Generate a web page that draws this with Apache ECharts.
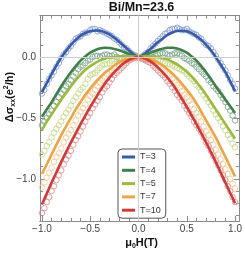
<!DOCTYPE html>
<html><head><meta charset="utf-8">
<script src="https://cdn.jsdelivr.net/npm/echarts@6/dist/echarts.min.js"></script>
<style>html,body{margin:0;padding:0;background:#fff}#c{width:245px;height:253px}</style>
</head><body><div id="c"></div>
<script>
// field values of fitted curves (T)
const fitX = [-1,-0.95,-0.9,-0.85,-0.8,-0.75,-0.7,-0.65,-0.6,-0.55,-0.5,-0.45,-0.4,-0.35,-0.3,-0.25,-0.2,-0.15,-0.1,-0.05,0,
  0.05,0.1,0.15,0.2,0.25,0.3,0.35,0.4,0.45,0.5,0.55,0.6,0.65,0.7,0.75,0.8,0.85,0.9,0.95,1];
// fitted curves
const fitT3 = [-0.29,-0.215,-0.14,-0.07,-0.005,0.05,0.10,0.14,0.175,0.197,0.21,0.217,0.215,0.203,0.185,0.157,0.125,0.09,0.055,0.022,0.0,
  0.02,0.05,0.085,0.12,0.15,0.18,0.20,0.213,0.215,0.21,0.195,0.17,0.14,0.10,0.055,0.0,-0.06,-0.125,-0.2,-0.28];
const fitT4 = [-0.49,-0.43,-0.37,-0.305,-0.24,-0.18,-0.125,-0.075,-0.03,0.005,0.035,0.055,0.07,0.075,0.073,0.065,0.055,0.04,0.025,0.01,0,
  0.012,0.027,0.043,0.057,0.068,0.075,0.076,0.07,0.055,0.035,0.005,-0.03,-0.075,-0.125,-0.18,-0.24,-0.295,-0.35,-0.405,-0.46];
const fitT5 = [-0.60,-0.53,-0.47,-0.41,-0.35,-0.295,-0.24,-0.19,-0.145,-0.105,-0.075,-0.05,-0.03,-0.015,-0.005,0.0,0.005,0.006,0.005,0.003,0,
  0.003,0.005,0.005,0.0,-0.01,-0.02,-0.04,-0.06,-0.09,-0.12,-0.16,-0.205,-0.255,-0.31,-0.37,-0.43,-0.49,-0.55,-0.61,-0.67];
const fitT7 = [-0.96,-0.88,-0.80,-0.72,-0.64,-0.57,-0.50,-0.43,-0.37,-0.31,-0.26,-0.21,-0.17,-0.13,-0.10,-0.07,-0.045,-0.025,-0.012,-0.003,0,
  -0.003,-0.012,-0.025,-0.045,-0.07,-0.10,-0.135,-0.175,-0.22,-0.27,-0.32,-0.38,-0.45,-0.52,-0.59,-0.66,-0.74,-0.82,-0.90,-0.98];
const fitT10 = [-1.21,-1.12,-1.03,-0.945,-0.86,-0.78,-0.70,-0.625,-0.55,-0.48,-0.41,-0.345,-0.28,-0.22,-0.17,-0.125,-0.085,-0.05,-0.025,-0.008,0,
  -0.008,-0.025,-0.05,-0.085,-0.125,-0.17,-0.22,-0.28,-0.345,-0.41,-0.48,-0.55,-0.625,-0.70,-0.78,-0.86,-0.945,-1.03,-1.115,-1.20];
// field values of measured points (T)
const dataX = [-1,-0.975,-0.95,-0.925,-0.9,-0.875,-0.85,-0.825,-0.8,-0.775,-0.75,-0.725,-0.7,-0.675,-0.65,-0.625,-0.6,-0.575,-0.55,-0.525,
  -0.5,-0.475,-0.45,-0.425,-0.4,-0.375,-0.35,-0.325,-0.3,-0.275,-0.25,-0.225,-0.2,-0.175,-0.15,-0.125,-0.1,-0.075,-0.05,-0.025,0,
  0.025,0.05,0.075,0.1,0.125,0.15,0.175,0.2,0.225,0.25,0.275,0.3,0.325,0.35,0.375,0.4,0.425,0.45,0.475,0.5,
  0.525,0.55,0.575,0.6,0.625,0.65,0.675,0.7,0.725,0.75,0.775,0.8,0.825,0.85,0.875,0.9,0.925,0.95,0.975,1];
// measured data
const dataT3 = [-0.30,-0.27,-0.22,-0.18,-0.15,-0.12,-0.08,-0.05,-0.01,0.02,0.04,0.07,0.09,0.12,0.15,0.16,0.17,0.19,0.20,0.20,
  0.22,0.23,0.23,0.21,0.22,0.21,0.20,0.19,0.18,0.17,0.15,0.14,0.12,0.10,0.08,0.07,0.05,0.03,0.02,0.01,0.00,
  0.00,0.01,0.03,0.04,0.07,0.09,0.11,0.13,0.15,0.17,0.19,0.20,0.22,0.23,0.23,0.24,0.23,0.22,0.22,0.23,
  0.21,0.20,0.19,0.18,0.16,0.15,0.12,0.10,0.09,0.07,0.04,0.01,-0.02,-0.05,-0.08,-0.11,-0.15,-0.19,-0.22,-0.26];
const dataT4 = [-0.56,-0.53,-0.50,-0.47,-0.44,-0.40,-0.37,-0.33,-0.30,-0.27,-0.24,-0.22,-0.19,-0.16,-0.13,-0.10,-0.08,-0.07,-0.05,-0.03,
  -0.02,0.00,0.01,0.01,0.00,0.01,0.02,0.02,0.01,0.01,0.02,0.00,-0.01,-0.01,0.00,0.01,0.02,0.02,0.01,0.00,0.00,
  -0.01,-0.01,-0.02,-0.02,-0.01,0.00,0.01,0.02,0.03,0.03,0.03,0.02,0.01,0.02,0.03,0.03,0.02,0.01,-0.01,-0.02,
  -0.03,-0.05,-0.06,-0.08,-0.10,-0.12,-0.14,-0.16,-0.19,-0.21,-0.24,-0.26,-0.28,-0.31,-0.34,-0.37,-0.41,-0.44,-0.48,-0.52];
const dataT5 = [-0.80,-0.77,-0.73,-0.70,-0.66,-0.62,-0.59,-0.56,-0.53,-0.49,-0.46,-0.43,-0.40,-0.36,-0.33,-0.30,-0.27,-0.25,-0.22,-0.18,
  -0.15,-0.14,-0.13,-0.11,-0.09,-0.07,-0.06,-0.06,-0.05,-0.03,-0.02,-0.02,-0.02,-0.01,0.00,0.00,-0.01,0.00,0.01,0.00,0.00,
  0.00,0.00,-0.01,-0.01,-0.01,-0.02,-0.02,-0.03,-0.03,-0.04,-0.05,-0.06,-0.06,-0.07,-0.08,-0.09,-0.10,-0.11,-0.12,-0.14,
  -0.16,-0.18,-0.20,-0.23,-0.25,-0.28,-0.31,-0.34,-0.37,-0.40,-0.44,-0.47,-0.50,-0.53,-0.57,-0.60,-0.64,-0.67,-0.71,-0.74];
const dataT7 = [-1.07,-1.03,-0.99,-0.95,-0.91,-0.86,-0.82,-0.79,-0.75,-0.70,-0.66,-0.63,-0.60,-0.56,-0.52,-0.48,-0.45,-0.42,-0.39,-0.35,
  -0.32,-0.30,-0.27,-0.24,-0.21,-0.19,-0.17,-0.14,-0.12,-0.11,-0.09,-0.07,-0.06,-0.04,-0.03,-0.03,-0.02,-0.01,0.00,0.00,0.00,
  -0.01,-0.01,-0.01,-0.02,-0.03,-0.04,-0.05,-0.07,-0.08,-0.10,-0.12,-0.14,-0.16,-0.18,-0.21,-0.23,-0.25,-0.28,-0.31,-0.33,
  -0.36,-0.39,-0.43,-0.46,-0.49,-0.53,-0.57,-0.61,-0.64,-0.68,-0.72,-0.76,-0.80,-0.84,-0.88,-0.92,-0.96,-1.00,-1.04,-1.08];
const dataT10 = [-1.28,-1.24,-1.19,-1.15,-1.10,-1.06,-1.01,-0.97,-0.93,-0.88,-0.84,-0.81,-0.77,-0.72,-0.68,-0.65,-0.61,-0.57,-0.53,-0.49,
  -0.46,-0.42,-0.39,-0.36,-0.33,-0.29,-0.26,-0.24,-0.21,-0.18,-0.15,-0.13,-0.11,-0.09,-0.07,-0.05,-0.03,-0.02,-0.01,-0.01,0.00,
  -0.01,-0.02,-0.03,-0.04,-0.05,-0.07,-0.09,-0.11,-0.13,-0.15,-0.17,-0.20,-0.22,-0.25,-0.28,-0.31,-0.33,-0.36,-0.40,-0.43,
  -0.46,-0.49,-0.53,-0.56,-0.59,-0.62,-0.66,-0.70,-0.73,-0.77,-0.81,-0.85,-0.89,-0.93,-0.97,-1.01,-1.06,-1.10,-1.15,-1.19];
const seriesNames = ['T=3','T=4','T=5','T=7','T=10'];
const xMajor = [-1,-0.5,0,0.5,1];
const xMinor = [-1,-0.9,-0.8,-0.7,-0.6,-0.5,-0.4,-0.3,-0.2,-0.1,0,0.1,0.2,0.3,0.4,0.5,0.6,0.7,0.8,0.9,1];
const yMajor = [-1,-0.5,0];
const yMinor = [-1.3,-1.2,-1.1,-1,-0.9,-0.8,-0.7,-0.6,-0.5,-0.4,-0.3,-0.2,-0.1,0,0.1,0.2,0.3];

const fits = [fitT3, fitT4, fitT5, fitT7, fitT10];
const datas = [dataT3, dataT4, dataT5, dataT7, dataT10];
const lineColors = ['#3a5ca8','#3f7f4a','#9bbb3c','#eca447','#d13a3a'];
const dotColors = ['#8299d0','#7aa386','#c2d784','#f3c78e','#e48a8a'];
const pair = (xs, arr) => xs.map((x,i)=>[x,arr[i]]);
const fmt = v => (Math.abs(v)<1e-9?'0.0':v.toFixed(1).replace('-','\u2212'));
const FRAME = '#8a8a8a';

const chart = echarts.init(document.getElementById('c'), null, {renderer:'canvas'});
function xAx(pos, vals, len, labels){
  return {type:'value', position:pos, min:-1.02, max:1.04,
    axisLine:{show:true, onZero:false, lineStyle:{color:FRAME, width:1}},
    axisTick:{show:true, inside:true, length:len, customValues:vals, lineStyle:{color:FRAME}},
    axisLabel:{show:labels, customValues:xMajor, formatter:fmt, fontSize:10, color:'#444', margin:3, fontFamily:'Liberation Sans'},
    splitLine:{show:false}};
}
function yAx(pos, vals, len, labels){
  return {type:'value', position:pos, min:-1.345, max:0.34,
    axisLine:{show:true, onZero:false, lineStyle:{color:FRAME, width:1}},
    axisTick:{show:true, inside:true, length:len, customValues:vals, lineStyle:{color:FRAME}},
    axisLabel:{show:labels, customValues:yMajor, formatter:fmt, fontSize:10, color:'#444', margin:4, fontFamily:'Liberation Sans'},
    splitLine:{show:false}};
}
const series = [{
  type:'line', data:[], xAxisIndex:0, yAxisIndex:0, z:1, silent:true,
  markLine:{silent:true, symbol:'none', label:{show:false}, animation:false,
    lineStyle:{color:'#cfcfcf', width:1, type:'solid'},
    data:[{xAxis:0},{yAxis:0}]}
}];
datas.forEach((d,i)=>{
  series.push({name:'d'+seriesNames[i], type:'scatter', data:pair(dataX, d), symbol:'circle', symbolSize:5.5, z:2,
    itemStyle:{color:'rgba(255,255,255,0)', borderColor:dotColors[i], borderWidth:0.9, opacity:0.9}});
});
fits.forEach((f,i)=>{
  series.push({name:seriesNames[i], type:'line', data:pair(fitX, f), smooth:0.4, symbol:'none', z:3,
    lineStyle:{color:lineColors[i], width:2.6}, itemStyle:{color:lineColors[i]}});
});

chart.setOption({
  animation:false,
  grid:{left:40, right:2, top:15.5, bottom:32, containLabel:false},
  xAxis:[xAx('bottom', xMajor, 5, true), xAx('bottom', xMinor, 3, false), xAx('top', xMajor, 5, false), xAx('top', xMinor, 3, false)],
  yAxis:[yAx('left', yMajor, 5, true), yAx('left', yMinor, 3, false), yAx('right', yMajor, 5, false), yAx('right', yMinor, 3, false)],
  legend:{data:seriesNames, orient:'vertical', left:118, top:149, icon:'rect', itemWidth:13, itemHeight:3, itemGap:3.3,
    padding:[3,5,3,4], borderColor:'#555', borderWidth:1, borderRadius:4, backgroundColor:'#fff',
    textStyle:{fontSize:9, lineHeight:10, color:'#333', fontFamily:'Liberation Sans'}},
  graphic:[
    {type:'text', x:141.5, y:7.5, style:{text:'Bi/Mn=23.6', font:'bold 12.5px "Liberation Sans"', fill:'#111', textAlign:'center', textVerticalAlign:'middle'}},
    {type:'text', x:141.5, y:243, style:{text:'{a|\u03bc}{s|0}{a|H(T)}', textAlign:'center', textVerticalAlign:'middle',
      rich:{a:{font:'bold 11px "Liberation Sans"', fill:'#111'}, s:{font:'bold 7px "Liberation Sans"', fill:'#111', verticalAlign:'bottom', lineHeight:14}}}},
    {type:'text', x:10, y:97, rotation:Math.PI/2, style:{text:'{a|\u0394\u03c3}{s|xx}{a|(e}{p|2}{a|/h)}', textAlign:'center', textVerticalAlign:'middle',
      rich:{a:{font:'bold 11px "Liberation Sans"', fill:'#111', lineHeight:14}, s:{font:'bold 7px "Liberation Sans"', fill:'#111', verticalAlign:'bottom', lineHeight:14}, p:{font:'bold 7px "Liberation Sans"', fill:'#111', verticalAlign:'top', lineHeight:14}}}}
  ],
  series:series
});
</script></body></html>
